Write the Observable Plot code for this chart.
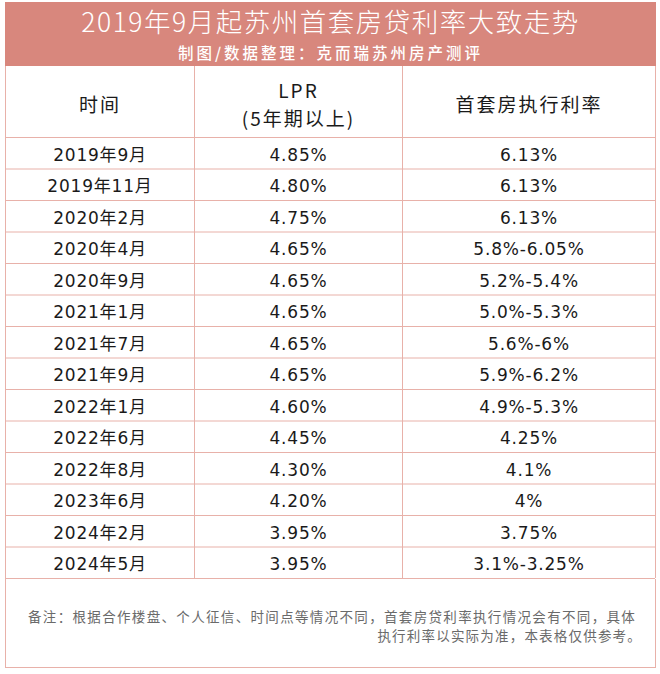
<!DOCTYPE html>
<html>
<head>
<meta charset="utf-8">
<script src="https://cdn.jsdelivr.net/npm/d3@7"></script>
<script src="https://cdn.jsdelivr.net/npm/@observablehq/plot@0.6"></script>
<style>
  html, body { margin: 0; padding: 0; background: #ffffff; }
  #wrap { position: relative; width: 660px; height: 674px; background: #fff; font-family: "Noto Sans CJK SC", sans-serif; }
  #band { position: absolute; left: 5px; top: 2px; width: 651px; height: 64px; background: #d8877d; color: #fff; text-align: center; }
  #title { position: absolute; left: 0; right: 0; top: 3px; font-size: 26.5px; line-height: 32px; font-weight: 300; letter-spacing: 1.5px; }
  #subtitle { position: absolute; left: 0; right: 0; top: 40.5px; font-size: 15.5px; line-height: 18px; font-weight: 500; letter-spacing: 3px; }
  #chart { position: absolute; left: 0; top: 66px; }
  #note { position: absolute; left: 5px; top: 579px; width: 649px; height: 88px; border-left: 1px solid #e8b1a9; border-right: 1px solid #e8b1a9; border-bottom: 1px solid #e8b1a9; color: #6a6a6a; font-size: 13.5px; letter-spacing: 1.2px; }
  #note .l1 { position: absolute; left: 22px; width: 608px; top: 28px; line-height: 19px; text-align: justify; text-align-last: justify; }
  #note .l2 { position: absolute; right: 13px; top: 47px; line-height: 19px; text-align: right; }
  #chart svg text { letter-spacing: 0.8px; }
  #chart svg g.hdr text { letter-spacing: 2px; }
</style>
</head>
<body>
<div id="wrap">
  <div id="band">
    <div id="title"></div>
    <div id="subtitle"></div>
  </div>
  <div id="chart"></div>
  <div id="note"><div class="l1"></div><div class="l2"></div></div>
</div>
<script>
// ---- data ----
const title = "2019年9月起苏州首套房贷利率大致走势";
const subtitle = "制图/数据整理：克而瑞苏州房产测评";
const headers = ["时间", "LPR\n(5年期以上)", "首套房执行利率"];
const times = ["2019年9月", "2019年11月", "2020年2月", "2020年4月", "2020年9月", "2021年1月", "2021年7月", "2021年9月", "2022年1月", "2022年6月", "2022年8月", "2023年6月", "2024年2月", "2024年5月"];
const lpr = ["4.85%", "4.80%", "4.75%", "4.65%", "4.65%", "4.65%", "4.65%", "4.65%", "4.60%", "4.45%", "4.30%", "4.20%", "3.95%", "3.95%"];
const rates = ["6.13%", "6.13%", "6.13%", "5.8%-6.05%", "5.2%-5.4%", "5.0%-5.3%", "5.6%-6%", "5.9%-6.2%", "4.9%-5.3%", "4.25%", "4.1%", "4%", "3.75%", "3.1%-3.25%"];
const noteLine1 = "备注：根据合作楼盘、个人征信、时间点等情况不同，首套房贷利率执行情况会有不同，具体";
const noteLine2 = "执行利率以实际为准，本表格仅供参考。";

// ---- layout (table geometry) ----
const colEdges = [0, 189, 397, 650];
const headerH = 71;
const rowH = 31.5;
const H = 513;
const colCenter = i => (colEdges[i] + colEdges[i + 1]) / 2;
const rowTop = i => headerH + i * rowH;
const rowMid = i => headerH + (i + 0.5) * rowH;

document.getElementById("title").textContent = title;
document.getElementById("subtitle").textContent = subtitle;
document.querySelector("#note .l1").textContent = noteLine1;
document.querySelector("#note .l2").textContent = noteLine2;

const lineColor = "#e8b1a9";
const hLines = d3.range(times.length + 1).map(rowTop);
const dataFont = "'DejaVu Sans', 'Noto Sans CJK SC', sans-serif";

const cellText = (arr, col) => Plot.text(arr, {
  x: () => colCenter(col), y: (d, i) => rowMid(i), text: d => d,
  dy: 2, fontSize: 17, fill: "#1a1a1a", fontFamily: dataFont
});

const plot = Plot.plot({
  width: 660, height: H,
  margin: 0,
  x: {domain: [0, 650], range: [5, 655], axis: null},
  y: {domain: [0, H], range: [0, H], axis: null},
  style: {background: "transparent", fontFamily: "'Noto Sans CJK SC', sans-serif"},
  marks: [
    Plot.ruleY(hLines, {y: d => d, x1: 0, x2: 650, stroke: lineColor, strokeWidth: 1}),
    Plot.ruleX(colEdges, {x: d => d, y1: 0, y2: H - 1, stroke: lineColor, strokeWidth: 1}),
    Plot.text(headers, {
      x: (d, i) => colCenter(i), y: headerH / 2, text: d => d,
      dy: 1, fontSize: 19, lineHeight: 1.45, fill: "#1a1a1a",
      fontFamily: "'Noto Sans CJK SC', sans-serif"
    }),
    cellText(times, 0),
    cellText(lpr, 1),
    cellText(rates, 2)
  ]
});
// tag header text group for letter spacing
const groups = plot.querySelectorAll("g[aria-label=text]");
if (groups.length) groups[0].classList.add("hdr");
document.getElementById("chart").appendChild(plot);
</script>
</body>
</html>
